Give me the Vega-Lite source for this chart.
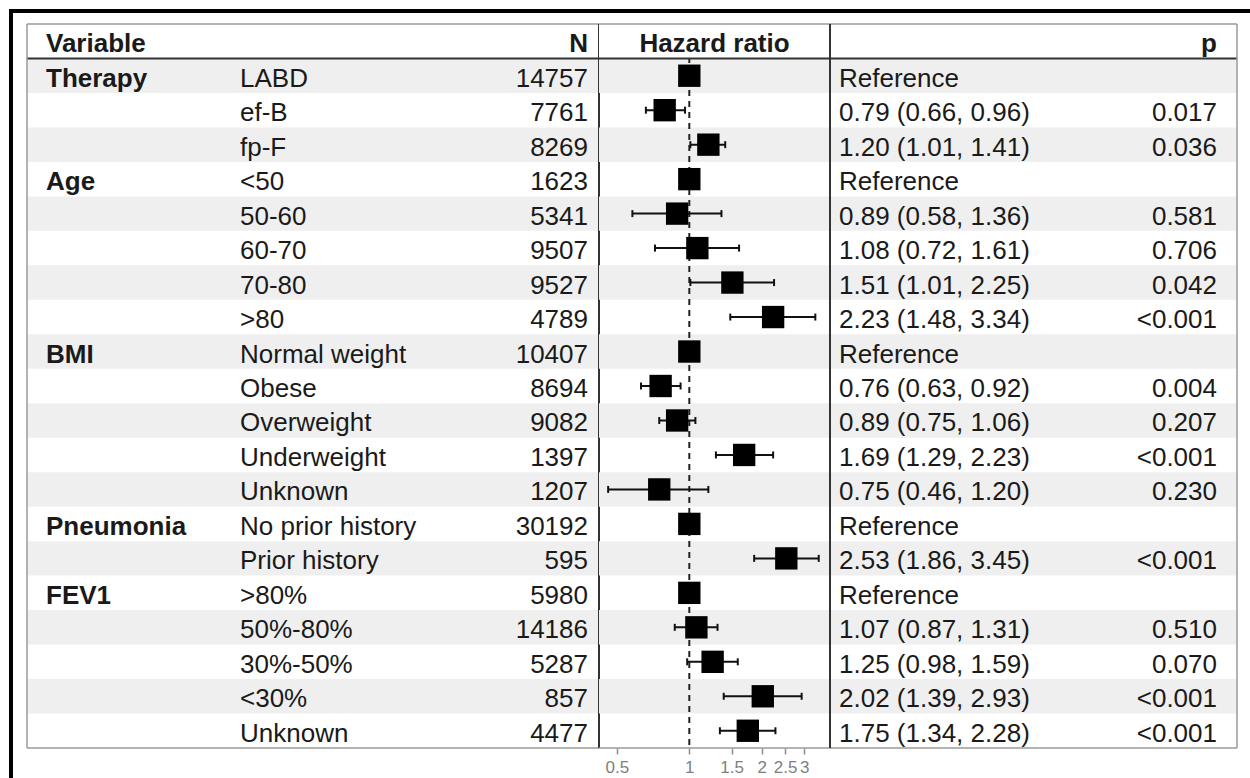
{
  "$schema": "https://vega.github.io/schema/vega-lite/v6.json",
  "background": "white",
  "padding": {"left": 9, "top": 9, "right": 0, "bottom": 0},
  "autosize": {"type": "pad"},
  "datasets": {
    "rows": [
      {"key": "Therapy|LABD", "group": "Therapy", "level": "LABD", "n": 14757, "hr": 1, "lo": null, "hi": null, "est": "Reference", "p": ""},
      {"key": "Therapy|ef-B", "group": "Therapy", "level": "ef-B", "n": 7761, "hr": 0.79, "lo": 0.66, "hi": 0.96, "est": "0.79 (0.66, 0.96)", "p": "0.017"},
      {"key": "Therapy|fp-F", "group": "Therapy", "level": "fp-F", "n": 8269, "hr": 1.20, "lo": 1.01, "hi": 1.41, "est": "1.20 (1.01, 1.41)", "p": "0.036"},
      {"key": "Age|<50", "group": "Age", "level": "<50", "n": 1623, "hr": 1, "lo": null, "hi": null, "est": "Reference", "p": ""},
      {"key": "Age|50-60", "group": "Age", "level": "50-60", "n": 5341, "hr": 0.89, "lo": 0.58, "hi": 1.36, "est": "0.89 (0.58, 1.36)", "p": "0.581"},
      {"key": "Age|60-70", "group": "Age", "level": "60-70", "n": 9507, "hr": 1.08, "lo": 0.72, "hi": 1.61, "est": "1.08 (0.72, 1.61)", "p": "0.706"},
      {"key": "Age|70-80", "group": "Age", "level": "70-80", "n": 9527, "hr": 1.51, "lo": 1.01, "hi": 2.25, "est": "1.51 (1.01, 2.25)", "p": "0.042"},
      {"key": "Age|>80", "group": "Age", "level": ">80", "n": 4789, "hr": 2.23, "lo": 1.48, "hi": 3.34, "est": "2.23 (1.48, 3.34)", "p": "<0.001"},
      {"key": "BMI|Normal weight", "group": "BMI", "level": "Normal weight", "n": 10407, "hr": 1, "lo": null, "hi": null, "est": "Reference", "p": ""},
      {"key": "BMI|Obese", "group": "BMI", "level": "Obese", "n": 8694, "hr": 0.76, "lo": 0.63, "hi": 0.92, "est": "0.76 (0.63, 0.92)", "p": "0.004"},
      {"key": "BMI|Overweight", "group": "BMI", "level": "Overweight", "n": 9082, "hr": 0.89, "lo": 0.75, "hi": 1.06, "est": "0.89 (0.75, 1.06)", "p": "0.207"},
      {"key": "BMI|Underweight", "group": "BMI", "level": "Underweight", "n": 1397, "hr": 1.69, "lo": 1.29, "hi": 2.23, "est": "1.69 (1.29, 2.23)", "p": "<0.001"},
      {"key": "BMI|Unknown", "group": "BMI", "level": "Unknown", "n": 1207, "hr": 0.75, "lo": 0.46, "hi": 1.20, "est": "0.75 (0.46, 1.20)", "p": "0.230"},
      {"key": "Pneumonia|No prior history", "group": "Pneumonia", "level": "No prior history", "n": 30192, "hr": 1, "lo": null, "hi": null, "est": "Reference", "p": ""},
      {"key": "Pneumonia|Prior history", "group": "Pneumonia", "level": "Prior history", "n": 595, "hr": 2.53, "lo": 1.86, "hi": 3.45, "est": "2.53 (1.86, 3.45)", "p": "<0.001"},
      {"key": "FEV1|>80%", "group": "FEV1", "level": ">80%", "n": 5980, "hr": 1, "lo": null, "hi": null, "est": "Reference", "p": ""},
      {"key": "FEV1|50%-80%", "group": "FEV1", "level": "50%-80%", "n": 14186, "hr": 1.07, "lo": 0.87, "hi": 1.31, "est": "1.07 (0.87, 1.31)", "p": "0.510"},
      {"key": "FEV1|30%-50%", "group": "FEV1", "level": "30%-50%", "n": 5287, "hr": 1.25, "lo": 0.98, "hi": 1.59, "est": "1.25 (0.98, 1.59)", "p": "0.070"},
      {"key": "FEV1|<30%", "group": "FEV1", "level": "<30%", "n": 857, "hr": 2.02, "lo": 1.39, "hi": 2.93, "est": "2.02 (1.39, 2.93)", "p": "<0.001"},
      {"key": "FEV1|Unknown", "group": "FEV1", "level": "Unknown", "n": 4477, "hr": 1.75, "lo": 1.34, "hi": 2.28, "est": "1.75 (1.34, 2.28)", "p": "<0.001"}
    ]
  },
  "spacing": 0,
  "bounds": "flush",
  "hconcat": [
    {
      "width": 4, "height": 769,
      "data": {"values": [{}]},
      "mark": {"type": "rect", "color": "#000000"},
      "encoding": {}
    },
    {
      "spacing": 11,
      "bounds": "flush",
      "vconcat": [
        {
          "width": 1237, "height": 4,
          "data": {"values": [{}]},
          "mark": {"type": "rect", "color": "#000000"},
          "encoding": {}
        },
        {
          "spacing": 0,
          "bounds": "flush",
          "hconcat": [
            {
              "width": 14, "height": 724,
              "data": {"values": [{}]},
              "mark": {"type": "rect", "color": "#ffffff"},
              "encoding": {}
            },
            {
              "width": 205, "height": 724,
              "layer": [
                {
                  "data": {"name": "rows"},
                  "transform": [{"window": [{"op": "row_number", "as": "rn"}]}, {"filter": "datum.rn % 2 == 1"}],
                  "mark": {"type": "rect", "color": "#efefef"},
                  "encoding": {"y": {"field": "key", "type": "nominal", "axis": null, "scale": {"type": "band", "paddingInner": 0, "paddingOuter": 0, "domain": ["hdr", "Therapy|LABD", "Therapy|ef-B", "Therapy|fp-F", "Age|<50", "Age|50-60", "Age|60-70", "Age|70-80", "Age|>80", "BMI|Normal weight", "BMI|Obese", "BMI|Overweight", "BMI|Underweight", "BMI|Unknown", "Pneumonia|No prior history", "Pneumonia|Prior history", "FEV1|>80%", "FEV1|50%-80%", "FEV1|30%-50%", "FEV1|<30%", "FEV1|Unknown"]}}}
                },
                {"data": {"values": [{}]}, "mark": {"type": "rule", "color": "#9a9a9a", "strokeWidth": 1.5}, "encoding": {"y": {"datum": "hdr", "type": "nominal", "bandPosition": 0, "axis": null}}},
                {"data": {"values": [{}]}, "mark": {"type": "rule", "color": "#333333", "strokeWidth": 2}, "encoding": {"y": {"datum": "Therapy|LABD", "type": "nominal", "bandPosition": 0, "axis": null}}},
                {"data": {"values": [{}]}, "mark": {"type": "rule", "color": "#9a9a9a", "strokeWidth": 1.5}, "encoding": {"y": {"datum": "FEV1|Unknown", "type": "nominal", "bandPosition": 1, "axis": null}}},
                {"data": {"values": [{}]}, "mark": {"type": "rule", "color": "#9a9a9a", "strokeWidth": 1.5}, "encoding": {"x": {"datum": 0, "type": "quantitative", "axis": null, "scale": {"domain": [0, 1], "nice": false}}}},
                {"data": {"values": [{}]}, "mark": {"type": "text", "align": "left", "dx": 19, "fontWeight": "bold"}, "encoding": {"x": {"datum": 0, "type": "quantitative", "axis": null}, "y": {"datum": "hdr", "type": "nominal", "axis": null}, "text": {"value": "Variable"}}},
                {
                  "data": {"name": "rows"},
                  "transform": [{"window": [{"op": "row_number", "as": "gi"}], "groupby": ["group"]}, {"filter": "datum.gi == 1"}],
                  "mark": {"type": "text", "align": "left", "dx": 19, "fontWeight": "bold"},
                  "encoding": {"x": {"datum": 0, "type": "quantitative", "axis": null}, "y": {"field": "key", "type": "nominal", "axis": null}, "text": {"field": "group"}}
                }
              ]
            },
            {
              "width": 367, "height": 724,
              "layer": [
                {
                  "data": {"name": "rows"},
                  "transform": [{"window": [{"op": "row_number", "as": "rn"}]}, {"filter": "datum.rn % 2 == 1"}],
                  "mark": {"type": "rect", "color": "#efefef"},
                  "encoding": {"y": {"field": "key", "type": "nominal", "axis": null, "scale": {"type": "band", "paddingInner": 0, "paddingOuter": 0, "domain": ["hdr", "Therapy|LABD", "Therapy|ef-B", "Therapy|fp-F", "Age|<50", "Age|50-60", "Age|60-70", "Age|70-80", "Age|>80", "BMI|Normal weight", "BMI|Obese", "BMI|Overweight", "BMI|Underweight", "BMI|Unknown", "Pneumonia|No prior history", "Pneumonia|Prior history", "FEV1|>80%", "FEV1|50%-80%", "FEV1|30%-50%", "FEV1|<30%", "FEV1|Unknown"]}}}
                },
                {"data": {"values": [{}]}, "mark": {"type": "rule", "color": "#9a9a9a", "strokeWidth": 1.5}, "encoding": {"y": {"datum": "hdr", "type": "nominal", "bandPosition": 0, "axis": null}}},
                {"data": {"values": [{}]}, "mark": {"type": "rule", "color": "#333333", "strokeWidth": 2}, "encoding": {"y": {"datum": "Therapy|LABD", "type": "nominal", "bandPosition": 0, "axis": null}}},
                {"data": {"values": [{}]}, "mark": {"type": "rule", "color": "#9a9a9a", "strokeWidth": 1.5}, "encoding": {"y": {"datum": "FEV1|Unknown", "type": "nominal", "bandPosition": 1, "axis": null}}},
                {"data": {"values": [{}]}, "mark": {"type": "rule", "color": "#333333", "strokeWidth": 2}, "encoding": {"x": {"datum": 1, "type": "quantitative", "axis": null, "scale": {"domain": [0, 1], "nice": false}}}},
                {"data": {"values": [{}]}, "mark": {"type": "text", "align": "right", "dx": -11, "fontWeight": "bold"}, "encoding": {"x": {"datum": 1, "type": "quantitative", "axis": null}, "y": {"datum": "hdr", "type": "nominal", "axis": null}, "text": {"value": "N"}}},
                {
                  "data": {"name": "rows"},
                  "mark": {"type": "text", "align": "left", "dx": 8},
                  "encoding": {"x": {"datum": 0, "type": "quantitative", "axis": null}, "y": {"field": "key", "type": "nominal", "axis": null}, "text": {"field": "level"}}
                },
                {
                  "data": {"name": "rows"},
                  "mark": {"type": "text", "align": "right", "dx": -11},
                  "encoding": {"x": {"datum": 1, "type": "quantitative", "axis": null}, "y": {"field": "key", "type": "nominal", "axis": null}, "text": {"field": "n", "type": "quantitative", "format": "d"}}
                }
              ]
            },
            {
              "width": 231, "height": 724,
              "layer": [
                {
                  "data": {"name": "rows"},
                  "transform": [{"window": [{"op": "row_number", "as": "rn"}]}, {"filter": "datum.rn % 2 == 1"}],
                  "mark": {"type": "rect", "color": "#efefef"},
                  "encoding": {"y": {"field": "key", "type": "nominal", "axis": null, "scale": {"type": "band", "paddingInner": 0, "paddingOuter": 0, "domain": ["hdr", "Therapy|LABD", "Therapy|ef-B", "Therapy|fp-F", "Age|<50", "Age|50-60", "Age|60-70", "Age|70-80", "Age|>80", "BMI|Normal weight", "BMI|Obese", "BMI|Overweight", "BMI|Underweight", "BMI|Unknown", "Pneumonia|No prior history", "Pneumonia|Prior history", "FEV1|>80%", "FEV1|50%-80%", "FEV1|30%-50%", "FEV1|<30%", "FEV1|Unknown"]}}}
                },
                {
                  "data": {"values": [{}]},
                  "mark": {"type": "rule", "color": "#222222", "strokeWidth": 2, "strokeDash": [6, 5]},
                  "encoding": {"x": {"datum": 1, "type": "quantitative", "scale": {"type": "log", "domain": [0.4214, 3.843], "nice": false}, "axis": {"values": [0.5, 1, 1.5, 2, 2.5, 3], "format": "~g", "title": null}}}
                },
                {"data": {"values": [{}]}, "mark": {"type": "rect", "color": "#ffffff"}, "encoding": {"y": {"datum": "hdr", "type": "nominal", "axis": null}}},
                {"data": {"values": [{}]}, "mark": {"type": "rule", "color": "#9a9a9a", "strokeWidth": 1.5}, "encoding": {"y": {"datum": "hdr", "type": "nominal", "bandPosition": 0, "axis": null}}},
                {"data": {"values": [{}]}, "mark": {"type": "rule", "color": "#333333", "strokeWidth": 2}, "encoding": {"y": {"datum": "Therapy|LABD", "type": "nominal", "bandPosition": 0, "axis": null}}},
                {"data": {"values": [{}]}, "mark": {"type": "rule", "color": "#9a9a9a", "strokeWidth": 1.5}, "encoding": {"y": {"datum": "FEV1|Unknown", "type": "nominal", "bandPosition": 1, "axis": null}}},
                {
                  "data": {"name": "rows"},
                  "transform": [{"filter": "datum.lo != null"}],
                  "mark": {"type": "rule", "color": "#111111", "strokeWidth": 2},
                  "encoding": {"x": {"field": "lo", "type": "quantitative", "axis": {"values": [0.5, 1, 1.5, 2, 2.5, 3], "format": "~g", "title": null}}, "x2": {"field": "hi"}, "y": {"field": "key", "type": "nominal", "axis": null}}
                },
                {
                  "data": {"name": "rows"},
                  "transform": [{"filter": "datum.lo != null"}],
                  "mark": {"type": "tick", "color": "#111111", "thickness": 2, "size": 7, "opacity": 1},
                  "encoding": {"x": {"field": "lo", "type": "quantitative", "axis": {"values": [0.5, 1, 1.5, 2, 2.5, 3], "format": "~g", "title": null}}, "y": {"field": "key", "type": "nominal", "axis": null}}
                },
                {
                  "data": {"name": "rows"},
                  "transform": [{"filter": "datum.hi != null"}],
                  "mark": {"type": "tick", "color": "#111111", "thickness": 2, "size": 7, "opacity": 1},
                  "encoding": {"x": {"field": "hi", "type": "quantitative", "axis": {"values": [0.5, 1, 1.5, 2, 2.5, 3], "format": "~g", "title": null}}, "y": {"field": "key", "type": "nominal", "axis": null}}
                },
                {
                  "data": {"name": "rows"},
                  "mark": {"type": "square", "color": "#000000", "size": 500, "opacity": 1},
                  "encoding": {"x": {"field": "hr", "type": "quantitative", "axis": {"values": [0.5, 1, 1.5, 2, 2.5, 3], "format": "~g", "title": null}}, "y": {"field": "key", "type": "nominal", "axis": null}}
                },
                {"data": {"values": [{}]}, "mark": {"type": "text", "align": "center", "fontWeight": "bold"}, "encoding": {"y": {"datum": "hdr", "type": "nominal", "axis": null}, "text": {"value": "Hazard ratio"}}}
              ]
            },
            {
              "width": 407, "height": 724,
              "layer": [
                {
                  "data": {"name": "rows"},
                  "transform": [{"window": [{"op": "row_number", "as": "rn"}]}, {"filter": "datum.rn % 2 == 1"}],
                  "mark": {"type": "rect", "color": "#efefef"},
                  "encoding": {"y": {"field": "key", "type": "nominal", "axis": null, "scale": {"type": "band", "paddingInner": 0, "paddingOuter": 0, "domain": ["hdr", "Therapy|LABD", "Therapy|ef-B", "Therapy|fp-F", "Age|<50", "Age|50-60", "Age|60-70", "Age|70-80", "Age|>80", "BMI|Normal weight", "BMI|Obese", "BMI|Overweight", "BMI|Underweight", "BMI|Unknown", "Pneumonia|No prior history", "Pneumonia|Prior history", "FEV1|>80%", "FEV1|50%-80%", "FEV1|30%-50%", "FEV1|<30%", "FEV1|Unknown"]}}}
                },
                {"data": {"values": [{}]}, "mark": {"type": "rule", "color": "#9a9a9a", "strokeWidth": 1.5}, "encoding": {"y": {"datum": "hdr", "type": "nominal", "bandPosition": 0, "axis": null}}},
                {"data": {"values": [{}]}, "mark": {"type": "rule", "color": "#333333", "strokeWidth": 2}, "encoding": {"y": {"datum": "Therapy|LABD", "type": "nominal", "bandPosition": 0, "axis": null}}},
                {"data": {"values": [{}]}, "mark": {"type": "rule", "color": "#9a9a9a", "strokeWidth": 1.5}, "encoding": {"y": {"datum": "FEV1|Unknown", "type": "nominal", "bandPosition": 1, "axis": null}}},
                {"data": {"values": [{}]}, "mark": {"type": "rule", "color": "#333333", "strokeWidth": 2}, "encoding": {"x": {"datum": 0, "type": "quantitative", "axis": null, "scale": {"domain": [0, 1], "nice": false}}}},
                {"data": {"values": [{}]}, "mark": {"type": "rule", "color": "#9a9a9a", "strokeWidth": 1.5}, "encoding": {"x": {"datum": 1, "type": "quantitative", "axis": null}}},
                {"data": {"values": [{}]}, "mark": {"type": "text", "align": "right", "dx": -20, "fontWeight": "bold"}, "encoding": {"x": {"datum": 1, "type": "quantitative", "axis": null}, "y": {"datum": "hdr", "type": "nominal", "axis": null}, "text": {"value": "p"}}},
                {
                  "data": {"name": "rows"},
                  "mark": {"type": "text", "align": "left", "dx": 9},
                  "encoding": {"x": {"datum": 0, "type": "quantitative", "axis": null}, "y": {"field": "key", "type": "nominal", "axis": null}, "text": {"field": "est"}}
                },
                {
                  "data": {"name": "rows"},
                  "mark": {"type": "text", "align": "right", "dx": -20},
                  "encoding": {"x": {"datum": 1, "type": "quantitative", "axis": null}, "y": {"field": "key", "type": "nominal", "axis": null}, "text": {"field": "p"}}
                }
              ]
            }
          ]
        }
      ]
    }
  ],
  "config": {
    "view": {"stroke": null},
    "font": "Liberation Sans",
    "text": {"font": "Liberation Sans", "fontSize": 26, "color": "#1a1a1a", "baseline": "alphabetic", "dy": 11},
    "axis": {
      "domain": false,
      "grid": false,
      "labelOverlap": false,
      "labelBound": false,
      "labelFlush": false,
      "tickColor": "#8c8c8c",
      "tickWidth": 1.5,
      "tickSize": 6,
      "labelColor": "#7f7f7f",
      "labelFontSize": 17,
      "labelFont": "Liberation Sans",
      "labelPadding": 5
    }
  }
}
